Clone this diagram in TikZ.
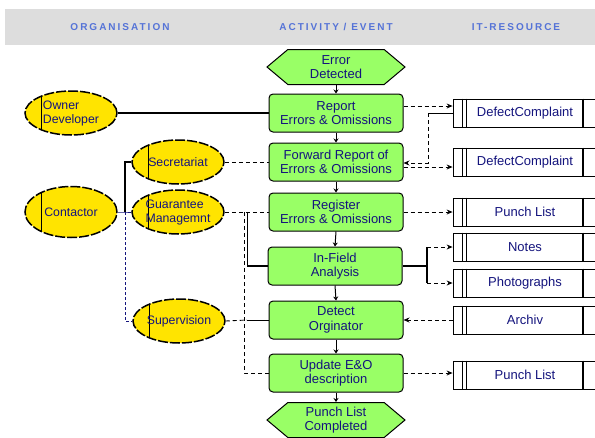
\documentclass[tikz,border=0pt]{standalone}
\usepackage{fontspec}
\setmainfont{Liberation Sans}
\newfontfamily\hdrfont[LetterSpace=20]{Liberation Sans}
\usetikzlibrary{shapes.geometric,shapes.symbols,arrows.meta}
\definecolor{actgreen}{RGB}{153,255,102}
\definecolor{orgyellow}{RGB}{255,228,0}
\definecolor{navytext}{RGB}{20,20,125}
\definecolor{hdrgray}{RGB}{221,221,221}
\definecolor{hdrblue}{RGB}{85,115,215}
\tikzset{
  txt/.style={font=\fontsize{13}{14.5}\selectfont, text=navytext, align=center},
  act/.style={txt, rectangle, rounded corners=4pt, draw, line width=1pt, fill=actgreen,
    minimum width=134pt, minimum height=38pt, inner sep=1pt},
  evt/.style={txt, signal, signal to=east and west, signal pointer angle=80, draw, line width=1pt,
    fill=actgreen, minimum width=138pt, minimum height=35pt, inner sep=0pt},
  org/.style={txt, font=\fontsize{12.3}{14}\selectfont, align=left, ellipse, draw, line width=1.5pt,
    dash pattern=on 10pt off 2pt,
    fill=orgyellow, minimum width=92pt, minimum height=44pt, inner sep=0pt,
    path picture={\draw[solid,line width=0.9pt]
      ([xshift=16pt]path picture bounding box.south west) --
      ([xshift=16pt]path picture bounding box.north west);}},
  res/.style={txt, rectangle, draw, line width=0.8pt, fill=white, minimum width=144pt,
    minimum height=28pt, inner sep=0pt},
  hdr/.style={font=\hdrfont\bfseries\fontsize{10}{12}\selectfont, text=hdrblue},
  dsh/.style={line width=0.9pt, dash pattern=on 4pt off 3pt},
  arr/.style={-{Stealth[length=6pt,width=5pt]}},
  flow/.style={line width=1pt, -{Stealth[length=4pt,width=5pt]}},
  bluel/.style={line width=0.9pt, draw=navytext},
}
\begin{document}
\begin{tikzpicture}[x=1pt,y=-1pt]
\useasboundingbox (0,0) rectangle (595,437);
% header band
\fill[hdrgray] (5,9) rectangle (595,45);
\node[hdr] (h1) at (120,27) {ORGANISATION};
\node[hdr] (h2) at (336,27) {ACTIVITY / EVENT};
\node[hdr] (h3) at (516,27) {IT-RESOURCE};

% activities / events
\node[evt] (ed) at (336,67) {Error\\Detected};
\node[act] (rep) at (336,113) {Report\\Errors \& Omissions};
\node[act] (fwd) at (336,162) {Forward Report of\\Errors \& Omissions};
\node[act] (reg) at (336,212) {Register\\Errors \& Omissions};
\node[act] (inf) at (335,266) {In-Field\\Analysis};
\node[act] (det) at (336,320) {Detect\\Orginator};
\node[act] (upd) at (336,373) {Update E\&O\\description};
\node[evt] (plc) at (336,420) {Punch List\\Completed};

% organisation
\node[org] (own) at (71,113) {Owner\\Developer};
\node[org, minimum height=51pt] (con) at (71,212) {Contactor};
\node[org] (sec) at (178,162) {Secretariat};
\node[org] (gua) at (178,212) {Guarantee\\Managemnt};
\node[org] (sup) at (179,321) {Supervision};

% IT resources
\node[res] (r1) at (525,113) {DefectComplaint};
\node[res] (r2) at (525,162) {DefectComplaint};
\node[res] (r3) at (525,212) {Punch List};
\node[res] (r4) at (525,247) {Notes};
\node[res] (r5) at (525,283) {Photographs};
\node[res] (r6) at (525,320) {Archiv};
\node[res] (r7) at (525,375) {Punch List};
\foreach \r in {r1,r2,r3,r4,r5,r6,r7}{
  \draw[line width=0.7pt] ([xshift=10pt]\r.north west) -- ([xshift=10pt]\r.south west);
  \draw[line width=0.7pt] ([xshift=14pt]\r.north west) -- ([xshift=14pt]\r.south west);
  \draw[line width=1.8pt] ([xshift=130pt]\r.north west) -- ([xshift=130pt]\r.south west);
}

% flow arrows
\draw[flow] (ed.south) -- (rep.north);
\draw[flow] (rep.south) -- (fwd.north);
\draw[flow] (fwd.south) -- (reg.north);
\draw[flow] (reg.south) -- (inf.north);
\draw[flow] (inf.south) -- (det.north);
\draw[flow] (det.south) -- (upd.north);
\draw[flow] (upd.south) -- (plc.north);

% organisation connectors
\draw[line width=1.4pt] (own.east) -- (rep.west);
\coordinate (cb) at (125,212);
\draw[bluel] (con.east) -- (cb) -- (gua.west);
\draw[line width=1.6pt] (cb) -- (cb |- sec.west) -- (sec.west);
\draw[bluel, dash pattern=on 3pt off 2pt] (cb) |- (sup.west);
\draw[dsh] (sec.east) -- (fwd.west);
\draw[dsh] (gua.east) -- (reg.west);
\coordinate (gb) at (247,212);
\coordinate (gd) at (244,212);
\draw[line width=1pt] (gb) -- (gb |- inf.west);
\draw[line width=2pt] (gb |- inf.west) -- (inf.west);
\draw[dsh] (gd) |- (upd.west);
\coordinate (sb) at (247,320);
\draw[dsh] (sup.east) -- (sb);
\draw[line width=1pt] (sb) -- (det.west);

% IT connectors
\coordinate (a1) at ([yshift=7pt]rep.east);
\draw[dsh,arr] (a1) -- (a1 -| r1.west);
\coordinate (k1) at (428,113);
\draw[line width=1pt] (r1.west) -- (k1);
\coordinate (a2) at ([yshift=-1pt]fwd.east);
\draw[dsh,arr] (k1) |- (a2);
\coordinate (a3) at ([yshift=-5pt]fwd.east);
\draw[dsh,arr] (a3) -- (a3 -| r2.west);
\draw[dsh,arr] (reg.east) -- (r3.west);
\coordinate (k2) at (427,266);
\draw[line width=2pt] (inf.east) -- (k2);
\draw[line width=1.4pt] (k2 |- r4.west) -- (k2 |- r5.west);
\draw[dsh,arr] (k2 |- r4.west) -- (r4.west);
\draw[dsh,arr] (k2 |- r5.west) -- (r5.west);
\draw[dsh,arr] (r6.west) -- (det.east);
\draw[dsh,arr] (upd.east) -- (upd.east -| r7.west);
\end{tikzpicture}
\end{document}
